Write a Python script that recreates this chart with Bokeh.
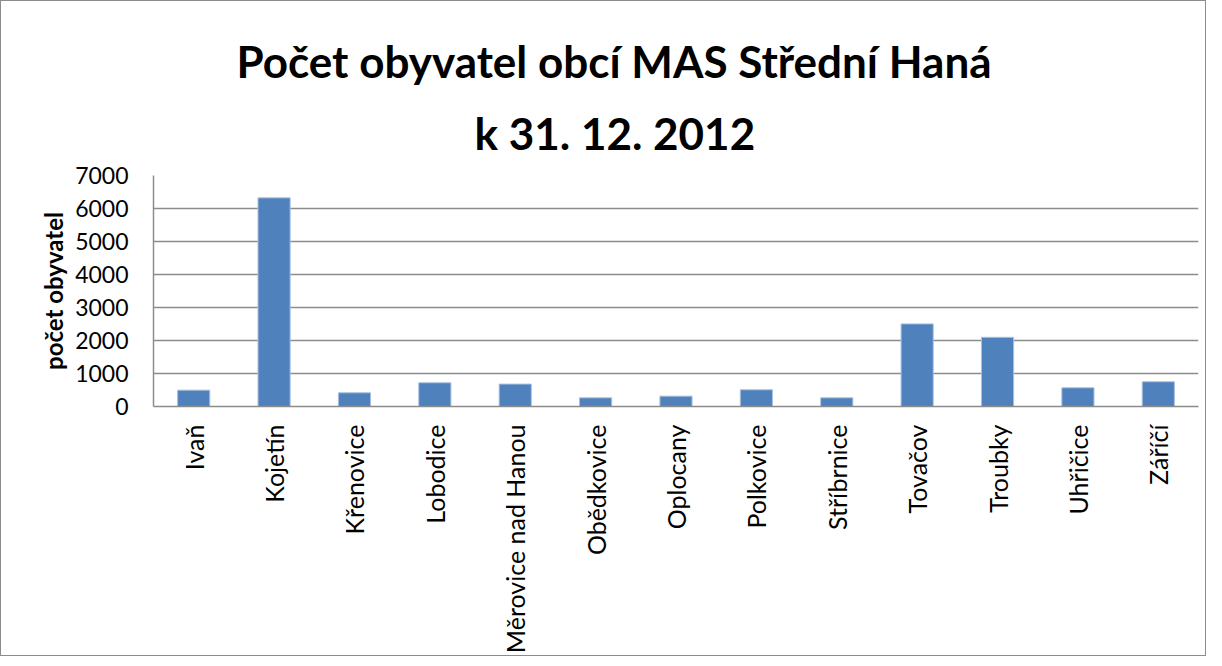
import math
from bokeh.plotting import figure
from bokeh.models import Range1d, Title, FactorRange
from bokeh.embed import file_html
from bokeh.resources import INLINE

obce = ["Ivaň", "Kojetín", "Křenovice", "Lobodice", "Měrovice nad Hanou",
        "Obědkovice", "Oplocany", "Polkovice", "Stříbrnice", "Tovačov",
        "Troubky", "Uhřičice", "Záříčí"]
obyvatel = [496, 6322, 415, 719, 679, 263, 314, 507, 263, 2503, 2097, 567, 750]
y_ticks = [0, 1000, 2000, 3000, 4000, 5000, 6000, 7000]
title_line1 = "Počet obyvatel obcí MAS Střední Haná"
title_line2 = "k 31. 12. 2012"
y_label = "počet obyvatel"

FONT = "Lato"

p = figure(x_range=FactorRange(*obce), y_range=Range1d(0, 7000),
           width=1206, height=656, output_backend="svg", toolbar_location=None,
           min_border_left=152, min_border_right=9, min_border_top=174,
           min_border_bottom=251,
           styles={"border": "1px solid #8c8c8c"})

p.title.text = title_line1
p.title.align = "left"
p.title.text_font = FONT
p.title.text_font_size = "44px"
p.title.text_font_style = "bold"
p.title.text_color = "black"
p.title.text_line_height = 0.5
p.title.offset = 83
p.title.standoff = 3
p.add_layout(Title(text=title_line2, align="left", text_font=FONT,
                   text_font_size="44px", text_font_style="bold",
                   text_color="black", text_line_height=0.5,
                   offset=321, standoff=33), "above")

p.vbar(x=obce, top=obyvatel, width=0.4, fill_color="#4F81BD",
       line_color="#a9c1df", line_width=1)

p.outline_line_color = None
p.xgrid.grid_line_color = None
p.ygrid.grid_line_color = "#8c8c8c"
p.ygrid.grid_line_width = 1.5
p.yaxis.ticker = y_ticks

for ax in (p.xaxis, p.yaxis):
    ax.axis_line_color = "#8c8c8c"
    ax.axis_line_width = 1.5
    ax.major_tick_line_color = None
    ax.minor_tick_line_color = None
    ax.major_label_text_font = FONT
    ax.major_label_text_color = "black"

p.yaxis.major_label_text_font_size = "23px"
p.yaxis.major_label_standoff = 19
p.yaxis.axis_label = y_label
p.yaxis.axis_label_text_font = FONT
p.yaxis.axis_label_text_font_size = "24px"
p.yaxis.axis_label_text_font_style = "bold"
p.yaxis.axis_label_text_color = "black"
p.yaxis.axis_label_standoff = 4

p.xaxis.major_label_text_font_size = "25px"
p.xaxis.major_label_orientation = math.pi / 2
p.xaxis.major_label_standoff = 12

open("out.html", "w").write(file_html(p, INLINE))
